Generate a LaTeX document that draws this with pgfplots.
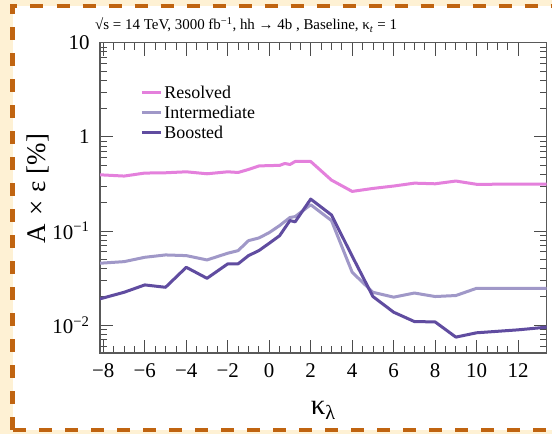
\documentclass[border=0pt]{standalone}
\usepackage{fontspec}
\setmainfont{Liberation Serif}
\usepackage{pgfplots}
\pgfplotsset{compat=1.18}
\definecolor{resolved}{RGB}{228,128,220}
\definecolor{intermed}{RGB}{160,152,200}
\definecolor{boosted}{RGB}{96,76,160}
\definecolor{cream}{RGB}{254,241,212}
\definecolor{frame}{RGB}{192,100,16}
\begin{document}
\begin{tikzpicture}
\clip (0bp,0bp) rectangle (552bp,434bp);
\fill[cream] (0bp,0bp) rectangle (552bp,434bp);
\draw[frame, fill=white, line width=4.5bp, dash pattern=on 13bp off 13bp] (12.5bp,4bp) rectangle (570bp,428bp);
\node[anchor=base west, font=\fontsize{15}{17}\selectfont, inner sep=0pt] at (95bp,404bp)
  {√s = 14 TeV, 3000 fb\textsuperscript{−1}, hh → 4b , Baseline, κ\textsubscript{\textit{t}} = 1};
\begin{axis}[scale only axis, at={(100bp,81bp)}, anchor=south west,
  width=446.7bp, height=310.3bp,
  xmin=-8.16, xmax=13.38, ymin=0.00505, ymax=10, ymode=log,
  xtick={-8,-6,...,12}, xticklabels={−8,−6,−4,−2,0,2,4,6,8,10,12},
  minor x tick num=3,
  ytick={0.01,0.1,1,10}, yticklabels={10\textsuperscript{−2},10\textsuperscript{−1},1,10},
  minor ytick={0.006,0.007,0.008,0.009,0.02,0.03,0.04,0.05,0.06,0.07,0.08,0.09,
    0.2,0.3,0.4,0.5,0.6,0.7,0.8,0.9,2,3,4,5,6,7,8,9},
  tick label style={font=\fontsize{21}{23}\selectfont},
  xticklabel style={yshift=-7bp},
  yticklabel style={xshift=-7bp},
  major tick length=13bp, minor tick length=7bp,
  axis line style={draw=black!65, line width=1.2bp},
  every tick/.style={black!70, line width=0.8bp},
  xlabel={κ\textsubscript{λ}}, ylabel={A\hspace{0.3em}×\hspace{0.3em}ε [\%]},
  label style={font=\fontsize{27}{30}\selectfont},
  xlabel style={at={(axis description cs:0.5,-0.185)}, anchor=center, font=\fontsize{29}{30}\selectfont},
  ylabel style={at={(axis description cs:-0.139,0.53)}, anchor=center},
  legend style={draw=none, fill=none, at={(0.09,0.868)}, anchor=north west,
    font=\fontsize{18}{20}\selectfont, row sep=2bp, inner sep=0pt},
  legend cell align=left,
  legend image code/.code={\draw[#1, line width=3bp] (0bp,0bp) -- (19bp,0bp);},
  every axis plot/.append style={line width=3bp, line join=round}]
\addplot[resolved] coordinates {(-8.16,0.395) (-7,0.383) (-6,0.412) (-5,0.415) (-4,0.425) (-3,0.405) (-2,0.425) (-1.5,0.418) (-1,0.45) (-0.5,0.49) (0,0.495) (0.5,0.497) (0.75,0.521) (1,0.508) (1.25,0.547) (2,0.547) (3,0.347) (4,0.263) (5,0.283) (6,0.30) (7,0.322) (8,0.317) (9,0.339) (10,0.313) (13.38,0.315)};
\addlegendentry{Resolved}
\addplot[intermed] coordinates {(-8.16,0.0454) (-7,0.0472) (-6,0.0525) (-5,0.0556) (-4,0.0547) (-3,0.0492) (-2,0.058) (-1.5,0.0618) (-1,0.0789) (-0.5,0.0842) (0,0.096) (0.5,0.114) (1,0.139) (1.25,0.142) (2,0.19) (3,0.129) (4,0.0364) (5,0.0223) (6,0.0198) (7,0.0219) (8,0.0201) (9,0.0206) (10,0.0246) (13.38,0.0246)};
\addlegendentry{Intermediate}
\addplot[boosted] coordinates {(-8.16,0.019) (-7,0.0223) (-6,0.0267) (-5,0.0252) (-4,0.0411) (-3,0.0314) (-2,0.0447) (-1.5,0.0447) (-1,0.0547) (-0.5,0.0618) (0,0.074) (0.5,0.089) (1,0.129) (1.25,0.125) (2,0.218) (3,0.148) (4,0.054) (5,0.0201) (6,0.0137) (7,0.0109) (8,0.0108) (9,0.00745) (10,0.00828) (12,0.0089) (13.38,0.0095)};
\addlegendentry{Boosted}
\end{axis}
\end{tikzpicture}
\end{document}
